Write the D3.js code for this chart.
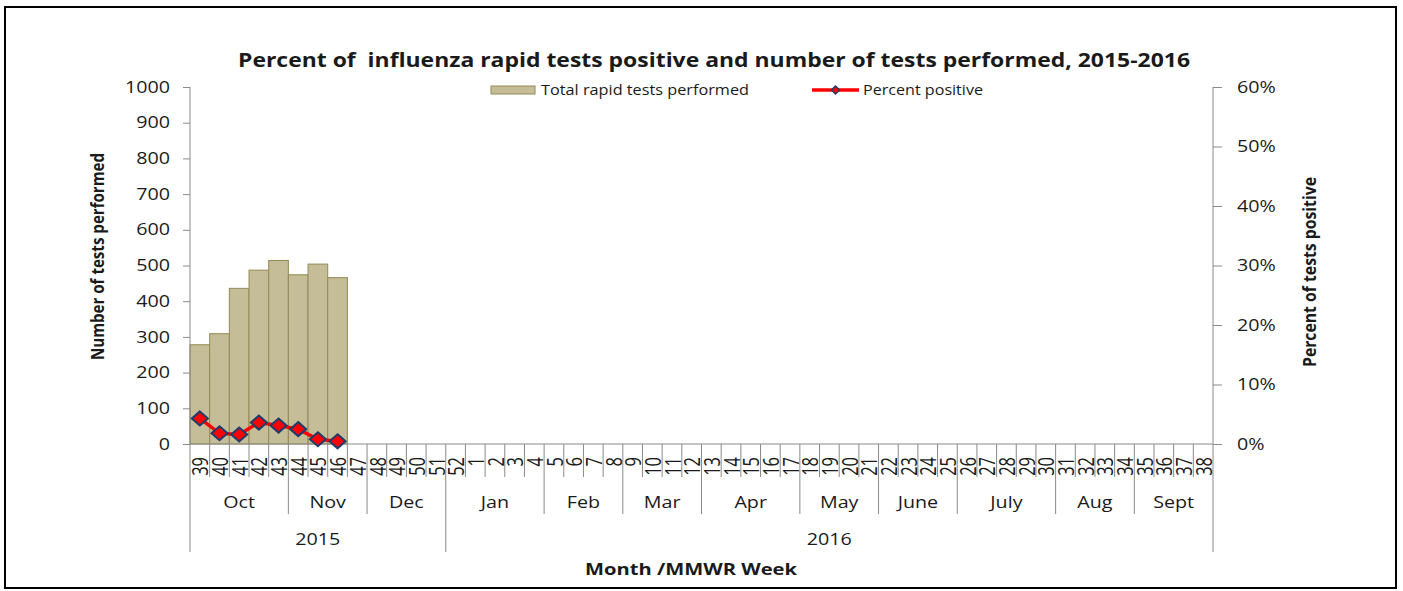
<!DOCTYPE html>
<html>
<head>
<meta charset="utf-8">
<script src="https://cdn.jsdelivr.net/npm/d3@7"></script>
<style>
  html, body { margin: 0; padding: 0; background: #fff; }
  svg { display: block; }
  text { font-family: "Open Sans", "Liberation Sans", sans-serif; fill: #1a1a1a; }
</style>
</head>
<body>
<svg id="chart" width="1403" height="591"></svg>
<script>
// ---------- DATA ----------
const weeks = ["39","40","41","42","43","44","45","46","47","48","49","50","51","52",
  "1","2","3","4","5","6","7","8","9","10","11","12","13","14","15","16","17","18","19","20",
  "21","22","23","24","25","26","27","28","29","30","31","32","33","34","35","36","37","38"];
const reportedWeeks = ["39","40","41","42","43","44","45","46"];
const testsPerformed = [278, 309, 436, 487, 514, 474, 504, 466];
const percentPositive = [4.3, 1.8, 1.6, 3.6, 3.1, 2.5, 0.8, 0.45];
const monthNames = ["Oct","Nov","Dec","Jan","Feb","Mar","Apr","May","June","July","Aug","Sept"];
const monthWeekCounts = [5, 4, 4, 5, 4, 4, 5, 4, 4, 5, 4, 4];
const yearNames = ["2015","2016"];
const yearWeekCounts = [13, 39];
const leftTicks = [0,100,200,300,400,500,600,700,800,900,1000];
const rightTicks = [0,10,20,30,40,50,60];
const titleText = "Percent of  influenza rapid tests positive and number of tests performed, 2015-2016";

// ---------- LAYOUT ----------
const svg = d3.select("#chart");
const X0 = 190, X1 = 1213, Y0 = 444, Y1 = 87;
const STRETCH = 1.23;
const axisColor = "#8a8a8a";

const x = d3.scaleBand().domain(weeks).range([X0, X1]).padding(0);
const yL = d3.scaleLinear().domain([0, 1000]).range([Y0, Y1]);
const yR = d3.scaleLinear().domain([0, 60]).range([Y0, Y1]);

function stretch(sel, f) {
  sel.each(function () {
    const w = this.getComputedTextLength();
    this.setAttribute("textLength", (w * f).toFixed(2));
    this.setAttribute("lengthAdjust", "spacingAndGlyphs");
  });
}
function fitW(sel, w) {
  sel.attr("textLength", w).attr("lengthAdjust", "spacingAndGlyphs");
}

// outer border
svg.append("rect").attr("x", 5).attr("y", 7).attr("width", 1391).attr("height", 581)
  .attr("fill", "none").attr("stroke", "#000").attr("stroke-width", 2);

// title
svg.append("text").attr("x", 714).attr("y", 67).attr("text-anchor", "middle")
  .style("font-size", "19.5px").style("font-weight", "bold").style("white-space", "pre")
  .attr("xml:space", "preserve")
  .text(titleText).call(fitW, 952);

// bars
svg.append("g").selectAll("rect").data(reportedWeeks).join("rect")
  .attr("x", d => x(d))
  .attr("y", (d, i) => yL(testsPerformed[i]))
  .attr("width", x.bandwidth())
  .attr("height", (d, i) => Y0 - yL(testsPerformed[i]))
  .attr("fill", "#c4bd97").attr("stroke", "#948a54").attr("stroke-width", 1);

// left axis
const gL = svg.append("g").attr("transform", `translate(${X0},0)`)
  .call(d3.axisLeft(yL).tickValues(leftTicks).tickSize(7).tickSizeOuter(0).tickFormat(d3.format("d")));
gL.select(".domain").remove();
gL.selectAll("line").attr("stroke", axisColor);
gL.selectAll("text").attr("x", -20).style("font-size", "16px").style("font-family", "Open Sans").attr("fill", "#1a1a1a")
  .call(stretch, STRETCH);

// right axis
const gR = svg.append("g").attr("transform", `translate(${X1},0)`)
  .call(d3.axisRight(yR).tickValues(rightTicks).tickSize(9).tickSizeOuter(0).tickFormat(d => d + "%"));
gR.select(".domain").remove();
gR.selectAll("line").attr("stroke", axisColor);
gR.selectAll("text").attr("x", 24).style("font-size", "16px").style("font-family", "Open Sans").attr("fill", "#1a1a1a")
  .call(stretch, STRETCH);

// vertical axis lines (extended down as category dividers)
svg.append("line").attr("x1", X0).attr("x2", X0).attr("y1", Y1).attr("y2", 552).attr("stroke", axisColor);
svg.append("line").attr("x1", X1).attr("x2", X1).attr("y1", Y1).attr("y2", 552).attr("stroke", axisColor);
// x baseline
svg.append("line").attr("x1", X0).attr("x2", X1).attr("y1", Y0).attr("y2", Y0).attr("stroke", axisColor);

// week dividers
svg.append("g").selectAll("line").data(weeks.slice(1)).join("line")
  .attr("x1", d => x(d)).attr("x2", d => x(d))
  .attr("y1", Y0).attr("y2", 477).attr("stroke", axisColor);

// week labels (rotated, widened across)
svg.append("g").selectAll("text").data(weeks).join("text")
  .attr("transform", d => `translate(${x(d) + x.bandwidth() / 2 + 1},457) rotate(-90) scale(1,1.28)`)
  .attr("text-anchor", "end").attr("dy", "0.36em")
  .style("font-size", "16.5px")
  .text(d => d);

// month dividers + labels
const monthStarts = [];
let acc = 0;
monthWeekCounts.forEach(n => { monthStarts.push(acc); acc += n; });
svg.append("g").selectAll("line").data(monthStarts.slice(1)).join("line")
  .attr("x1", s => x(weeks[s])).attr("x2", s => x(weeks[s]))
  .attr("y1", 477).attr("y2", 514).attr("stroke", axisColor);
svg.append("g").selectAll("text").data(monthNames).join("text")
  .attr("x", (d, i) => x(weeks[monthStarts[i]]) + monthWeekCounts[i] * x.bandwidth() / 2)
  .attr("y", 508).attr("text-anchor", "middle").style("font-size", "16px")
  .text(d => d).call(stretch, STRETCH);

// year dividers + labels
const yearStarts = [0, yearWeekCounts[0]];
svg.append("line").attr("x1", x(weeks[yearStarts[1]])).attr("x2", x(weeks[yearStarts[1]]))
  .attr("y1", 514).attr("y2", 552).attr("stroke", axisColor);
svg.append("g").selectAll("text").data(yearNames).join("text")
  .attr("x", (d, i) => x(weeks[yearStarts[i]]) + yearWeekCounts[i] * x.bandwidth() / 2)
  .attr("y", 545).attr("text-anchor", "middle").style("font-size", "16px")
  .text(d => d).call(stretch, STRETCH);

// percent positive line
const line = d3.line()
  .x((d, i) => x(reportedWeeks[i]) + x.bandwidth() / 2)
  .y(d => yR(d));
svg.append("path").datum(percentPositive).attr("d", line)
  .attr("fill", "none").attr("stroke", "#ff0000").attr("stroke-width", 3.5);

function diamondPath(w, h) {
  return `M0,${-h/2}L${w/2},0L0,${h/2}L${-w/2},0Z`;
}
svg.append("g").selectAll("path").data(percentPositive).join("path")
  .attr("transform", (d, i) => `translate(${x(reportedWeeks[i]) + x.bandwidth() / 2},${yR(d)})`)
  .attr("d", diamondPath(16, 14))
  .attr("fill", "#ff0000").attr("stroke", "#1f3d6b").attr("stroke-width", 2);

// legend
svg.append("rect").attr("x", 491).attr("y", 86).attr("width", 44).attr("height", 8)
  .attr("fill", "#c4bd97").attr("stroke", "#948a54").attr("stroke-width", 1);
svg.append("text").attr("x", 541).attr("y", 95).style("font-size", "14px")
  .text("Total rapid tests performed").call(fitW, 208);
svg.append("line").attr("x1", 812).attr("x2", 859).attr("y1", 90).attr("y2", 90)
  .attr("stroke", "#ff0000").attr("stroke-width", 3.5);
svg.append("path").attr("transform", "translate(835.5,90)").attr("d", diamondPath(8, 8))
  .attr("fill", "#ff0000").attr("stroke", "#1f3d6b").attr("stroke-width", 1.5);
svg.append("text").attr("x", 863).attr("y", 95).style("font-size", "14px")
  .text("Percent positive").call(fitW, 120);

// axis titles (rotated, widened across)
svg.append("text").attr("transform", "translate(98,256.5) rotate(-90) scale(1,1.2)")
  .attr("text-anchor", "middle").attr("dy", "0.36em")
  .style("font-size", "15px").style("font-weight", "bold")
  .text("Number of tests performed").call(fitW, 207);
svg.append("text").attr("transform", "translate(1310,272) rotate(-90) scale(1,1.2)")
  .attr("text-anchor", "middle").attr("dy", "0.36em")
  .style("font-size", "15px").style("font-weight", "bold")
  .text("Percent of tests positive").call(fitW, 190);
svg.append("text").attr("x", 691).attr("y", 575).attr("text-anchor", "middle")
  .style("font-size", "16.5px").style("font-weight", "bold")
  .text("Month /MMWR Week").call(fitW, 212);
</script>
</body>
</html>
